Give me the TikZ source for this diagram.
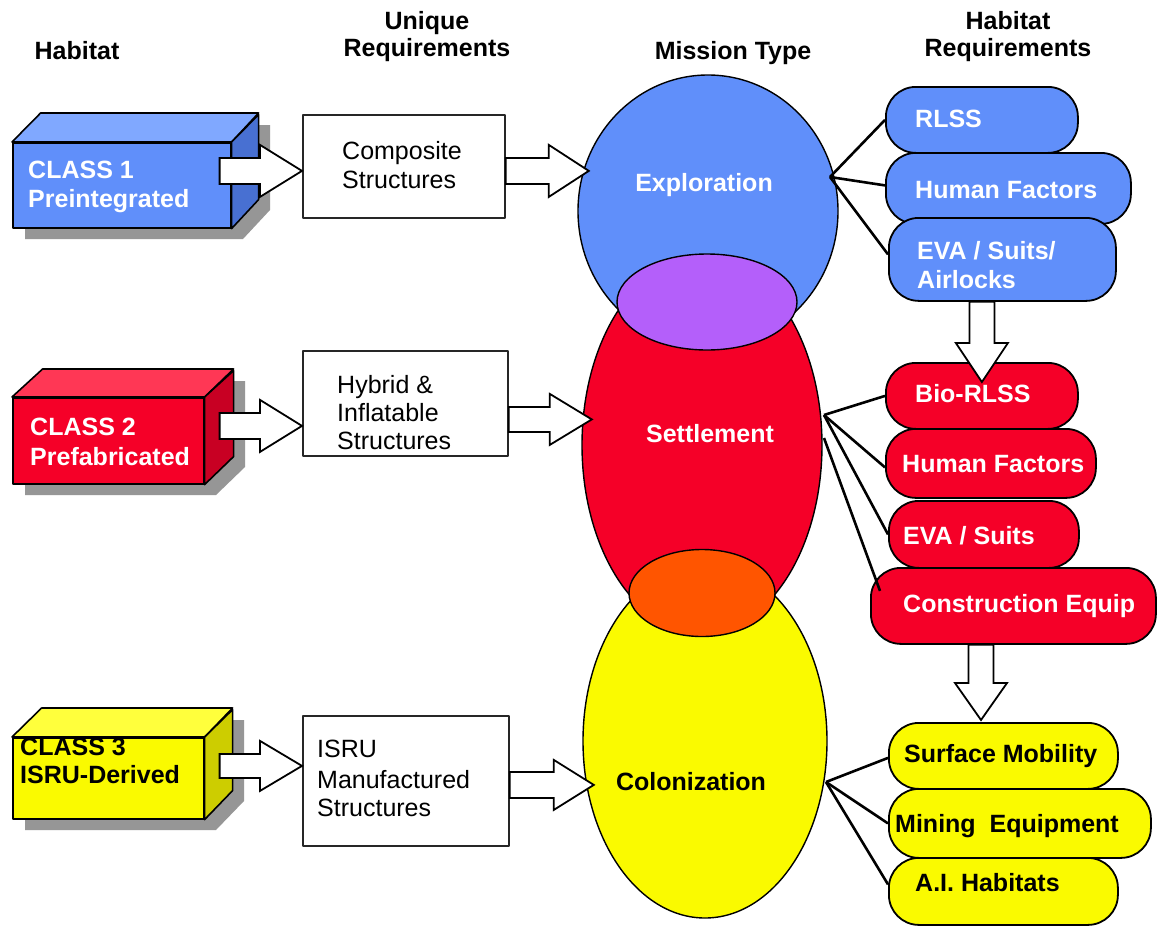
\documentclass[tikz,border=0pt]{standalone}
\usepackage{fontspec}
\setmainfont{Liberation Sans}
\usetikzlibrary{shapes.geometric,calc}
\definecolor{blueF}{RGB}{96,143,250}
\definecolor{blueT}{RGB}{128,168,255}
\definecolor{blueS}{RGB}{72,112,210}
\definecolor{redF}{RGB}{245,0,40}
\definecolor{redT}{RGB}{255,55,85}
\definecolor{redS}{RGB}{200,0,35}
\definecolor{yelF}{RGB}{250,250,0}
\definecolor{yelT}{RGB}{255,255,60}
\definecolor{yelS}{RGB}{205,205,0}
\definecolor{purp}{RGB}{180,95,250}
\definecolor{orng}{RGB}{255,85,0}
\definecolor{shadowc}{RGB}{150,150,150}
\newcommand{\harrow}[5]{%
  \draw[blockarrow] let \p1=#1, \p2=#2 in
    (\x1,\y2+#4pt) -- (\x2-#3pt,\y2+#4pt) -- (\x2-#3pt,\y2+#5pt) -- (\x2,\y2)
    -- (\x2-#3pt,\y2-#5pt) -- (\x2-#3pt,\y2-#4pt) -- (\x1,\y2-#4pt) -- cycle;}
\newcommand{\varrow}[5]{%
  \draw[blockarrow] let \p1=#1, \p2=#2 in
    (\x2-#4pt,\y1) -- (\x2-#4pt,\y2+#3pt) -- (\x2-#5pt,\y2+#3pt) -- (\x2,\y2)
    -- (\x2+#5pt,\y2+#3pt) -- (\x2+#4pt,\y2+#3pt) -- (\x2+#4pt,\y1) -- cycle;}
\begin{document}
\begin{tikzpicture}[x=1pt,y=-1pt,line join=round,
  hdr/.style={font=\fontsize{25}{29}\selectfont\bfseries, inner sep=0, anchor=base},
  txt/.style={font=\fontsize{25}{29}\selectfont, inner sep=0, anchor=base west},
  btxt/.style={font=\fontsize{25}{29}\selectfont\bfseries, inner sep=0, anchor=base west},
  face/.style={draw=black, line width=1.6pt},
  front/.style={face, inner sep=0, anchor=north west},
  reqbox/.style={draw=black!85, line width=1.8pt, fill=white, inner sep=0, anchor=north west},
  mission/.style={ellipse, draw=black, line width=1.4pt, inner sep=0},
  pill/.style={draw=black, line width=1.8pt, rounded corners=30pt, inner sep=0, anchor=north west},
  link/.style={draw=black, line width=2.6pt},
  blockarrow/.style={draw=black, line width=1.8pt, fill=white, line join=miter}]
\useasboundingbox (0,0) rectangle (1159,926);
\fill[white] (0,0) rectangle (1159,926);

% headers
\node[hdr] (h1) at (77,59) {Habitat};
\node[hdr] (h2a) at (427,29) {Unique};
\node[hdr] (h2b) at (427,56) {Requirements};
\node[hdr] (h3) at (733,59) {Mission Type};
\node[hdr] (h4a) at (1008,29) {Habitat};
\node[hdr] (h4b) at (1008,56) {Requirements};

% class 1
\fill[shadowc] (25,154) -- (25,239) -- (243,239) -- (270,210) -- (270,125) -- (52,125) -- cycle;
\node[front, fill=blueF, minimum width=218, minimum height=85] (c1) at (12,142) {};
\draw[face, fill=blueT] (c1.north west) -- (c1.north east) -- ++(27,-29) -- ++(-218,0) -- cycle;
\draw[face, fill=blueS] (c1.north east) -- (c1.south east) -- ++(27,-29) -- ++(0,-85) -- cycle;
\node[btxt, text=white] (c1a) at (28,178) {CLASS 1};
\node[btxt, text=white] (c1b) at (28,207) {Preintegrated};

% class 2
\fill[shadowc] (25,409) -- (25,495) -- (216,495) -- (245,467) -- (245,381) -- (54,381) -- cycle;
\node[front, fill=redF, minimum width=191, minimum height=86] (c2) at (12,397) {};
\draw[face, fill=redT] (c2.north west) -- (c2.north east) -- ++(29,-28) -- ++(-191,0) -- cycle;
\draw[face, fill=redS] (c2.north east) -- (c2.south east) -- ++(29,-28) -- ++(0,-86) -- cycle;
\node[btxt, text=white] (c2a) at (30,435) {CLASS 2};
\node[btxt, text=white] (c2b) at (30,465) {Prefabricated};

% class 3
\fill[shadowc] (25,749) -- (25,830) -- (216,830) -- (244,801) -- (244,720) -- (53,720) -- cycle;
\node[front, fill=yelF, minimum width=191, minimum height=81] (c3) at (12,737) {};
\draw[face, fill=yelT] (c3.north west) -- (c3.north east) -- ++(28,-29) -- ++(-191,0) -- cycle;
\draw[face, fill=yelS] (c3.north east) -- (c3.south east) -- ++(28,-29) -- ++(0,-81) -- cycle;
\node[btxt, text=black] (c3a) at (20,755) {CLASS 3};
\node[btxt, text=black] (c3b) at (20,783) {ISRU-Derived};

% unique requirement boxes
\node[reqbox, minimum width=202, minimum height=103] (u1) at (302,114) {};
\node[txt] (u1a) at (342,159) {Composite};
\node[txt] (u1b) at (342,188) {Structures};
\node[reqbox, minimum width=205, minimum height=105] (u2) at (302,350) {};
\node[txt] (u2a) at (337,393) {Hybrid \&};
\node[txt] (u2b) at (337,421) {Inflatable};
\node[txt] (u2c) at (337,449) {Structures};
\node[reqbox, minimum width=206, minimum height=130] (u3) at (302,715) {};
\node[txt] (u3a) at (317,757) {ISRU};
\node[txt] (u3b) at (317,788) {Manufactured};
\node[txt] (u3c) at (317,816) {Structures};

% mission ellipses
\node[mission, fill=yelF, minimum width=244, minimum height=354] (colon) at (705,741) {};
\node[mission, fill=redF, minimum width=240, minimum height=376] (settle) at (702,445) {};
\node[mission, fill=blueF, minimum width=260, minimum height=272] (expl) at (708,211) {};
\node[mission, fill=purp, minimum width=180, minimum height=96] (ov1) at (707,302) {};
\node[mission, fill=orng, minimum width=146, minimum height=87] (ov2) at (702,593) {};
\node[hdr, text=white] (lexp) at (704,191) {Exploration};
\node[hdr, text=white] (lset) at (710,442) {Settlement};
\node[hdr, text=black] (lcol) at (691,790) {Colonization};

% habitat requirement pills
\node[pill, fill=blueF, minimum width=192, minimum height=66] (rlss) at (885,86) {};
\node[pill, fill=blueF, minimum width=245, minimum height=71] (hf1) at (885,152) {};
\node[pill, fill=blueF, minimum width=227, minimum height=83] (eva1) at (888,217) {};
\node[pill, fill=redF, minimum width=192, minimum height=66] (bio) at (885,362) {};
\node[pill, fill=redF, minimum width=210, minimum height=69] (hf2) at (885,428) {};
\node[pill, fill=redF, minimum width=190, minimum height=67] (eva2) at (888,500) {};
\node[pill, fill=redF, minimum width=285, minimum height=76] (con) at (870,567) {};
\node[pill, fill=yelF, minimum width=229, minimum height=66] (sm) at (888,722) {};
\node[pill, fill=yelF, minimum width=262, minimum height=69] (me) at (888,788) {};
\node[pill, fill=yelF, minimum width=229, minimum height=67] (ai) at (888,857) {};

\node[btxt, text=white] (rlsst) at (915,127) {RLSS};
\node[btxt, text=white] (hf1t) at (915,198) {Human Factors};
\node[btxt, text=white] (eva1t) at (917,259) {EVA / Suits/};
\node[btxt, text=white] (eva1u) at (917,288) {Airlocks};
\node[btxt, text=white] (biot) at (915,402) {Bio-RLSS};
\node[btxt, text=white] (hf2t) at (902,472) {Human Factors};
\node[btxt, text=white] (eva2t) at (903,544) {EVA / Suits};
\node[btxt, text=white] (cont) at (903,612) {Construction Equip};
\node[btxt, text=black] (smt) at (904,762) {Surface Mobility};
\node[btxt, text=black] (met) at (895,832) {Mining\ \ Equipment};
\node[btxt, text=black] (ait) at (915,891) {A.I. Habitats};

% links
\coordinate (hubB) at (830,177);
\coordinate (hubR) at (824,415);
\coordinate (hubR2) at (824,438);
\coordinate (hubY) at (826,782);
\draw[link] (hubB) -- (rlss.west);
\draw[link] (hubB) -- ($(hf1.west)+(0,-3)$);
\draw[link] (hubB) -- ($(eva1.west)+(0,-5)$);
\draw[link] (hubR) -- (bio.west);
\draw[link] (hubR) -- ($(hf2.west)+(0,4)$);
\draw[link] (hubR) -- (eva2.west);
\draw[link] (hubR2) -- ($(con.west)+(10,-15)$);
\draw[link] (hubY) -- ($(sm.west)+(0,2)$);
\draw[link] (hubY) -- (me.west);
\draw[link] (hubY) -- ($(ai.west)+(0,-7)$);

% block arrows
\coordinate (t1) at ($(u1.west)+(0,4.5)$);
\coordinate (t2) at ($(u2.west)+(0,22.5)$);
\coordinate (t3) at ($(u3.west)+(0,-15)$);
\coordinate (t4) at ($(u1.east)+(83,4.5)$);
\coordinate (t5) at ($(u2.east)+(83,16)$);
\coordinate (t6) at ($(u3.east)+(84,4)$);
\coordinate (t7) at ($(bio.north)+(0,20)$);
\coordinate (t8) at ($(sm.north west)+(93,-2)$);
\harrow{($(c1.east)+(-12,0)$)}{(t1)}{42}{13}{26}
\harrow{($(c2.east)+(15,0)$)}{(t2)}{42}{13}{26}
\harrow{($(c3.east)+(15,0)$)}{(t3)}{42}{12}{25}
\harrow{(u1.east)}{(t4)}{40}{13}{26}
\harrow{(u2.east)}{(t5)}{42}{12.5}{25.5}
\harrow{(u3.east)}{(t6)}{40}{13}{25}
\varrow{(eva1.south)}{(t7)}{39}{12.5}{26}
\varrow{(con.south)}{(t8)}{37}{12.5}{26}
\end{tikzpicture}
\end{document}
